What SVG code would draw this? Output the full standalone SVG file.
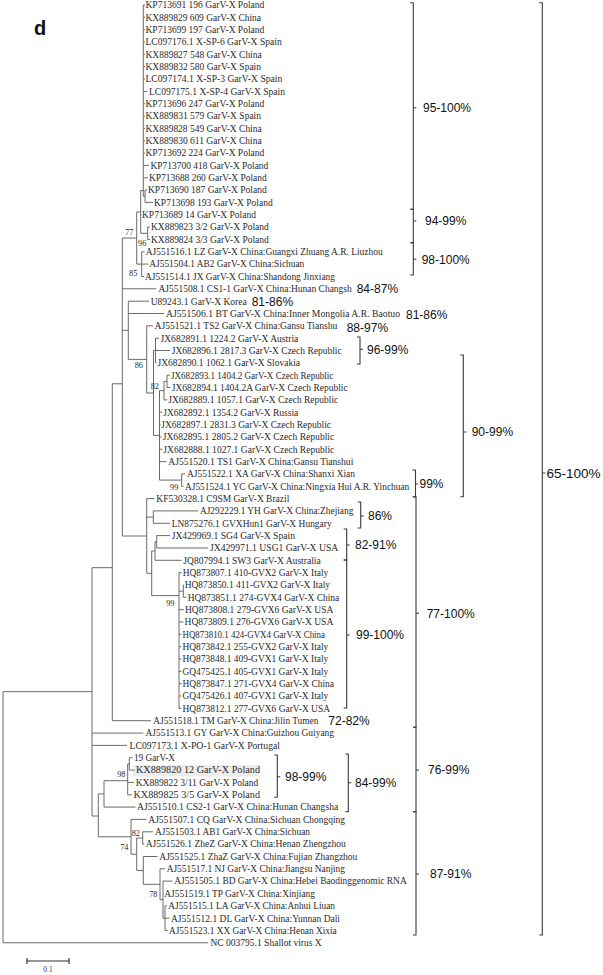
<svg xmlns="http://www.w3.org/2000/svg" width="603" height="975" viewBox="0 0 603 975">
<style>
.lf{font-family:"Liberation Serif","Times New Roman",serif;font-size:9.5px;fill:#2a2a2a}
.bs{font-family:"Liberation Serif","Times New Roman",serif;font-size:8.3px;fill:#2a2a2a;text-anchor:end}
.pc{font-family:"Liberation Sans",Arial,sans-serif;font-size:12px;fill:#111}
.tr{fill:none;stroke:#5a5a5a;stroke-width:0.9}
.br{fill:none;stroke:#3a3a3a;stroke-width:1.1}
</style>
<rect width="603" height="975" fill="#ffffff"/>
<rect x="133" y="765" width="127" height="11.5" fill="#ededed"/>
<text x="34" y="35" font-family="Liberation Sans,Arial,sans-serif" font-size="20" font-weight="bold" fill="#111">d</text>

<g id="connectors" class="tr">
<path d="M3,691.7V942.8M3,691.7H92M92,567.7V816M92,567.7H112.3M112.3,383.8V720.7M112.3,383.8H122.3M122.3,238V536"/>
<path d="M122.3,238H136.7M136.7,211.9V264.1M136.7,211.9H140.7M140.7,190.5V233.3M140.7,190.5H143.3M143.3,5V196.3M143.3,196.3H145M145,190.1V202.4M140.7,233.3H147.7M147.7,227.1V239.5M136.7,264.1H141.7M141.7,251.8V276.5"/>
<path d="M122.3,330.3H128.3M128.3,301.2V359.4M128.3,359.4H146.7M146.7,325.8V393M146.7,393H153.5M153.5,350.5V435.4M153.5,350.5H155.5M155.5,338.2V362.9M153.5,435.4H159.5M159.5,390.6V480.1M159.5,390.6H164M164,381.4V399.9M164,381.4H167M167,375.2V387.5M159.5,480.1H181.7M181.7,473.9V486.3"/>
<path d="M122.3,536H146.7M146.7,498.6V573.3M146.7,517.1H153.3M153.3,510.9V523.3M146.7,573.3H151.7M151.7,551V595.6M151.7,551H155M155,541.8V560.3M155,541.8H156.7M156.7,535.6V548M151.7,595.6H179M179,572.6V708.4M179,591.2H183.3M183.3,585V597.3"/>
<path d="M92,816H98.3M98.3,793.9V836.8M98.3,793.9H104M104,780.7V807.1M104,780.7H127.7M127.7,763.9V794.8M127.7,763.9H129.3M129.3,757.7V770.1"/>
<path d="M98.3,836.8H131M131,819.4V854.2M131,854.2H136.7M136.7,838V870.4M136.7,838H142.7M142.7,831.8V844.1M136.7,870.4H143.3M143.3,856.5V884.3M143.3,884.3H160M160,868.8V899.7M160,899.7H163M163,881.1V918.2M163,918.2H165M165,905.8V930.5"/>
<path d="M143.3,5H145M143.3,17.3H145M143.3,29.7H145M143.3,42H145M143.3,54.4H145M143.3,66.7H145M143.3,79H145M143.3,91.4H147.5M143.3,103.7H145M143.3,116.1H145M143.3,128.4H145M143.3,140.7H145M143.3,153.1H145M143.3,165.4H149M143.3,177.8H148M145,190.1H147M145,202.4H153M140.7,214.8H141.5M147.7,227.1H150M147.7,239.5H150M141.7,251.8H144.7M141.7,264.1H148.3M141.7,276.5H144"/>
<path d="M122.3,288.8H156M128.3,301.2H149M128.3,313.5H164M146.7,325.8H153M155.5,338.2H159M155.5,350.5H170M155.5,362.9H156.5M167,375.2H170M167,387.5H170.5M164,399.9H167.3M159.5,412.2H162.3M159.5,424.6H160.5M159.5,436.9H161.7M159.5,449.2H162.3M159.5,461.6H166.5M181.7,473.9H185M181.7,486.3H183.5"/>
<path d="M146.7,498.6H154.5M153.3,510.9H198M153.3,523.3H170M156.7,535.6H170M156.7,548H208M155,560.3H181.5M179,572.6H181.5M183.3,585H184M183.3,597.3H186.5M179,609.7H184M179,622H183.5M179,634.3H181.5M179,646.7H181.5M179,659H181.5M179,671.4H181.5M179,683.7H181.5M179,696H181.5M179,708.4H181.5"/>
<path d="M112.3,720.7H151M92,733.1H143.3M92,745.4H127M129.3,757.7H132.5M129.3,770.1H134.5M127.7,782.4H134M127.7,794.8H132M104,807.1H135.5M131,819.4H146.5M142.7,831.8H153M142.7,844.1H144.3M143.3,856.5H157.5M160,868.8H165M163,881.1H172.5M163,893.5H163.5M165,905.8H167M165,918.2H169.5M165,930.5H167.5M3,942.8H208"/>
</g>

<g id="leaves" lengthAdjust="spacingAndGlyphs">
<g id="leaf-1"><text class="lf" x="145.5" y="8.3" textLength="118.8" lengthAdjust="spacingAndGlyphs">KP713691 196 GarV-X Poland</text></g>
<g id="leaf-2"><text class="lf" x="145.5" y="20.6" textLength="115.5" lengthAdjust="spacingAndGlyphs">KX889829 609 GarV-X China</text></g>
<g id="leaf-3"><text class="lf" x="145.5" y="33" textLength="118.8" lengthAdjust="spacingAndGlyphs">KP713699 197 GarV-X Poland</text></g>
<g id="leaf-4"><text class="lf" x="145.5" y="45.3" textLength="136.2" lengthAdjust="spacingAndGlyphs">LC097176.1 X-SP-6 GarV-X Spain</text></g>
<g id="leaf-5"><text class="lf" x="145.5" y="57.7" textLength="116.2" lengthAdjust="spacingAndGlyphs">KX889827 548 GarV-X China</text></g>
<g id="leaf-6"><text class="lf" x="145.5" y="70" textLength="115.5" lengthAdjust="spacingAndGlyphs">KX889832 580 GarV-X Spain</text></g>
<g id="leaf-7"><text class="lf" x="145.5" y="82.3" textLength="136.8" lengthAdjust="spacingAndGlyphs">LC097174.1 X-SP-3 GarV-X Spain</text></g>
<g id="leaf-8"><text class="lf" x="149" y="94.7" textLength="136" lengthAdjust="spacingAndGlyphs">LC097175.1 X-SP-4 GarV-X Spain</text></g>
<g id="leaf-9"><text class="lf" x="145.5" y="107" textLength="118.8" lengthAdjust="spacingAndGlyphs">KP713696 247 GarV-X Poland</text></g>
<g id="leaf-10"><text class="lf" x="145.5" y="119.4" textLength="115.5" lengthAdjust="spacingAndGlyphs">KX889831 579 GarV-X Spain</text></g>
<g id="leaf-11"><text class="lf" x="145.5" y="131.7" textLength="116.2" lengthAdjust="spacingAndGlyphs">KX889828 549 GarV-X China</text></g>
<g id="leaf-12"><text class="lf" x="145.5" y="144" textLength="116.2" lengthAdjust="spacingAndGlyphs">KX889830 611 GarV-X China</text></g>
<g id="leaf-13"><text class="lf" x="145.5" y="156.4" textLength="118.8" lengthAdjust="spacingAndGlyphs">KP713692 224 GarV-X Poland</text></g>
<g id="leaf-14"><text class="lf" x="150.5" y="168.7" textLength="117.8" lengthAdjust="spacingAndGlyphs">KP713700 418 GarV-X Poland</text></g>
<g id="leaf-15"><text class="lf" x="149" y="181.1" textLength="117.7" lengthAdjust="spacingAndGlyphs">KP713688 260 GarV-X Poland</text></g>
<g id="leaf-16"><text class="lf" x="148" y="193.4" textLength="118.7" lengthAdjust="spacingAndGlyphs">KP713690 187 GarV-X Poland</text></g>
<g id="leaf-17"><text class="lf" x="154" y="205.7" textLength="118.7" lengthAdjust="spacingAndGlyphs">KP713698 193 GarV-X Poland</text></g>
<g id="leaf-18"><text class="lf" x="142" y="218.1" textLength="114" lengthAdjust="spacingAndGlyphs">KP713689 14 GarV-X Poland</text></g>
<g id="leaf-19"><text class="lf" x="151" y="230.4" textLength="117.7" lengthAdjust="spacingAndGlyphs">KX889823 3/2 GarV-X Poland</text></g>
<g id="leaf-20"><text class="lf" x="151" y="242.8" textLength="117.7" lengthAdjust="spacingAndGlyphs">KX889824 3/3 GarV-X Poland</text></g>
<g id="leaf-21"><text class="lf" x="145.7" y="255.1" textLength="237" lengthAdjust="spacingAndGlyphs">AJ551516.1 LZ GarV-X China:Guangxi Zhuang A.R. Liuzhou</text></g>
<g id="leaf-22"><text class="lf" x="149.3" y="267.4" textLength="155" lengthAdjust="spacingAndGlyphs">AJ551504.1 AB2 GarV-X China:Sichuan</text></g>
<g id="leaf-23"><text class="lf" x="145" y="279.8" textLength="190" lengthAdjust="spacingAndGlyphs">AJ551514.1 JX GarV-X China:Shandong Jinxiang</text></g>
<g id="leaf-24"><text class="lf" x="158.5" y="292.1" textLength="193.2" lengthAdjust="spacingAndGlyphs">AJ551508.1 CS1-1 GarV-X China:Hunan Changsh</text></g>
<g id="leaf-25"><text class="lf" x="150.7" y="304.5" textLength="96" lengthAdjust="spacingAndGlyphs">U89243.1 GarV-X Korea</text></g>
<g id="leaf-26"><text class="lf" x="166" y="316.8" textLength="234" lengthAdjust="spacingAndGlyphs">AJ551506.1 BT GarV-X China:Inner Mongolia A.R. Baotuo</text></g>
<g id="leaf-27"><text class="lf" x="154.5" y="329.1" textLength="182.8" lengthAdjust="spacingAndGlyphs">AJ551521.1 TS2 GarV-X China:Gansu Tianshu</text></g>
<g id="leaf-28"><text class="lf" x="160.5" y="341.5" textLength="137.8" lengthAdjust="spacingAndGlyphs">JX682891.1 1224.2 GarV-X Austria</text></g>
<g id="leaf-29"><text class="lf" x="171.7" y="353.8" textLength="170" lengthAdjust="spacingAndGlyphs">JX682896.1 2817.3 GarV-X Czech Republic</text></g>
<g id="leaf-30"><text class="lf" x="157.5" y="366.2" textLength="142.5" lengthAdjust="spacingAndGlyphs">JX682890.1 1062.1 GarV-X Slovakia</text></g>
<g id="leaf-31"><text class="lf" x="171" y="378.5" textLength="162.3" lengthAdjust="spacingAndGlyphs">JX682893.1 1404.2 GarV-X Czech Republic</text></g>
<g id="leaf-32"><text class="lf" x="171.7" y="390.8" textLength="176" lengthAdjust="spacingAndGlyphs">JX682894.1 1404.2A GarV-X Czech Republic</text></g>
<g id="leaf-33"><text class="lf" x="168.3" y="403.2" textLength="170" lengthAdjust="spacingAndGlyphs">JX682889.1 1057.1 GarV-X Czech Republic</text></g>
<g id="leaf-34"><text class="lf" x="163.3" y="415.5" textLength="135" lengthAdjust="spacingAndGlyphs">JX682892.1 1354.2 GarV-X Russia</text></g>
<g id="leaf-35"><text class="lf" x="161.3" y="427.9" textLength="169.7" lengthAdjust="spacingAndGlyphs">JX682897.1 2831.3 GarV-X Czech Republic</text></g>
<g id="leaf-36"><text class="lf" x="162.7" y="440.2" textLength="171.6" lengthAdjust="spacingAndGlyphs">JX682895.1 2805.2 GarV-X Czech Republic</text></g>
<g id="leaf-37"><text class="lf" x="163.3" y="452.5" textLength="171" lengthAdjust="spacingAndGlyphs">JX682888.1 1027.1 GarV-X Czech Republic</text></g>
<g id="leaf-38"><text class="lf" x="168.3" y="464.9" textLength="185" lengthAdjust="spacingAndGlyphs">AJ551520.1 TS1 GarV-X China:Gansu Tianshui</text></g>
<g id="leaf-39"><text class="lf" x="187" y="477.2" textLength="168" lengthAdjust="spacingAndGlyphs">AJ551522.1 XA GarV-X China:Shanxi Xian</text></g>
<g id="leaf-40"><text class="lf" x="185" y="489.6" textLength="224.3" lengthAdjust="spacingAndGlyphs">AJ551524.1 YC GarV-X China:Ningxia Hui A.R. Yinchuan</text></g>
<g id="leaf-41"><text class="lf" x="156.3" y="501.9" textLength="133" lengthAdjust="spacingAndGlyphs">KF530328.1 C9SM GarV-X Brazil</text></g>
<g id="leaf-42"><text class="lf" x="200" y="514.2" textLength="153.3" lengthAdjust="spacingAndGlyphs">AJ292229.1 YH GarV-X China:Zhejiang</text></g>
<g id="leaf-43"><text class="lf" x="171.7" y="526.6" textLength="160" lengthAdjust="spacingAndGlyphs">LN875276.1 GVXHun1 GarV-X Hungary</text></g>
<g id="leaf-44"><text class="lf" x="171.7" y="538.9" textLength="123.3" lengthAdjust="spacingAndGlyphs">JX429969.1 SG4 GarV-X Spain</text></g>
<g id="leaf-45"><text class="lf" x="210" y="551.3" textLength="128.3" lengthAdjust="spacingAndGlyphs">JX429971.1 USG1 GarV-X USA</text></g>
<g id="leaf-46"><text class="lf" x="183.3" y="563.6" textLength="137.4" lengthAdjust="spacingAndGlyphs">JQ807994.1 SW3 GarV-X Australia</text></g>
<g id="leaf-47"><text class="lf" x="182.7" y="575.9" textLength="145.6" lengthAdjust="spacingAndGlyphs">HQ873807.1 410-GVX2 GarV-X Italy</text></g>
<g id="leaf-48"><text class="lf" x="184.7" y="588.3" textLength="145.3" lengthAdjust="spacingAndGlyphs">HQ873850.1 411-GVX2 GarV-X Italy</text></g>
<g id="leaf-49"><text class="lf" x="187.7" y="600.6" textLength="151.6" lengthAdjust="spacingAndGlyphs">HQ873851.1 274-GVX4 GarV-X China</text></g>
<g id="leaf-50"><text class="lf" x="185" y="613" textLength="148.3" lengthAdjust="spacingAndGlyphs">HQ873808.1 279-GVX6 GarV-X USA</text></g>
<g id="leaf-51"><text class="lf" x="184.5" y="625.3" textLength="148.8" lengthAdjust="spacingAndGlyphs">HQ873809.1 276-GVX6 GarV-X USA</text></g>
<g id="leaf-52"><text class="lf" x="182.5" y="637.6" textLength="142.5" lengthAdjust="spacingAndGlyphs">HQ873810.1 424-GVX4 GarV-X China</text></g>
<g id="leaf-53"><text class="lf" x="182.5" y="650" textLength="145.8" lengthAdjust="spacingAndGlyphs">HQ873842.1 255-GVX2 GarV-X Italy</text></g>
<g id="leaf-54"><text class="lf" x="182.5" y="662.3" textLength="145.8" lengthAdjust="spacingAndGlyphs">HQ873848.1 409-GVX1 GarV-X Italy</text></g>
<g id="leaf-55"><text class="lf" x="182.5" y="674.7" textLength="145.8" lengthAdjust="spacingAndGlyphs">GQ475425.1 405-GVX1 GarV-X Italy</text></g>
<g id="leaf-56"><text class="lf" x="182.5" y="687" textLength="151.5" lengthAdjust="spacingAndGlyphs">HQ873847.1 271-GVX4 GarV-X China</text></g>
<g id="leaf-57"><text class="lf" x="182.5" y="699.3" textLength="145.8" lengthAdjust="spacingAndGlyphs">GQ475426.1 407-GVX1 GarV-X Italy</text></g>
<g id="leaf-58"><text class="lf" x="182.5" y="711.7" textLength="147.5" lengthAdjust="spacingAndGlyphs">HQ873812.1 277-GVX6 GarV-X USA</text></g>
<g id="leaf-59"><text class="lf" x="153.3" y="724" textLength="165" lengthAdjust="spacingAndGlyphs">AJ551518.1 TM GarV-X China:Jilin Tumen</text></g>
<g id="leaf-60"><text class="lf" x="145.5" y="736.4" textLength="188.5" lengthAdjust="spacingAndGlyphs">AJ551513.1 GY GarV-X China:Guizhou Guiyang</text></g>
<g id="leaf-61"><text class="lf" x="129.5" y="748.7" textLength="150.5" lengthAdjust="spacingAndGlyphs">LC097173.1 X-PO-1 GarV-X Portugal</text></g>
<g id="leaf-62"><text class="lf" x="134" y="761" textLength="41" lengthAdjust="spacingAndGlyphs">19 GarV-X</text></g>
<g id="leaf-63"><text class="lf" x="136" y="773.4" textLength="124" lengthAdjust="spacingAndGlyphs">KX889820 12 GarV-X Poland</text></g>
<g id="leaf-64"><text class="lf" x="135.7" y="785.7" textLength="122.6" lengthAdjust="spacingAndGlyphs">KX889822 3/11 GarV-X Poland</text></g>
<g id="leaf-65"><text class="lf" x="133.5" y="798.1" textLength="126.5" lengthAdjust="spacingAndGlyphs">KX889825 3/5 GarV-X Poland</text></g>
<g id="leaf-66"><text class="lf" x="137" y="810.4" textLength="201.3" lengthAdjust="spacingAndGlyphs">AJ551510.1 CS2-1 GarV-X China:Hunan Changsha</text></g>
<g id="leaf-67"><text class="lf" x="148.3" y="822.7" textLength="196.7" lengthAdjust="spacingAndGlyphs">AJ551507.1 CQ GarV-X China:Sichuan Chongqing</text></g>
<g id="leaf-68"><text class="lf" x="155" y="835.1" textLength="155" lengthAdjust="spacingAndGlyphs">AJ551503.1 AB1 GarV-X China:Sichuan</text></g>
<g id="leaf-69"><text class="lf" x="145.7" y="847.4" textLength="200" lengthAdjust="spacingAndGlyphs">AJ551526.1 ZheZ GarV-X China:Henan Zhengzhou</text></g>
<g id="leaf-70"><text class="lf" x="159.3" y="859.8" textLength="198" lengthAdjust="spacingAndGlyphs">AJ551525.1 ZhaZ GarV-X China:Fujian Zhangzhou</text></g>
<g id="leaf-71"><text class="lf" x="166.7" y="872.1" textLength="178.3" lengthAdjust="spacingAndGlyphs">AJ551517.1 NJ GarV-X China:Jiangsu Nanjing</text></g>
<g id="leaf-72"><text class="lf" x="174.3" y="884.4" textLength="232.4" lengthAdjust="spacingAndGlyphs">AJ551505.1 BD GarV-X China:Hebei Baodinggenomic RNA</text></g>
<g id="leaf-73"><text class="lf" x="164.3" y="896.8" textLength="150.7" lengthAdjust="spacingAndGlyphs">AJ551519.1 TP GarV-X China:Xinjiang</text></g>
<g id="leaf-74"><text class="lf" x="168.3" y="909.1" textLength="166.7" lengthAdjust="spacingAndGlyphs">AJ551515.1 LA GarV-X China:Anhui Liuan</text></g>
<g id="leaf-75"><text class="lf" x="171" y="921.5" textLength="169" lengthAdjust="spacingAndGlyphs">AJ551512.1 DL GarV-X China:Yunnan Dali</text></g>
<g id="leaf-76"><text class="lf" x="169" y="933.8" textLength="167.7" lengthAdjust="spacingAndGlyphs">AJ551523.1 XX GarV-X China:Henan Xixia</text></g>
<g id="leaf-77"><text class="lf" x="210.5" y="946.1" textLength="111.2" lengthAdjust="spacingAndGlyphs">NC 003795.1 Shallot virus X</text></g>
</g>

<g id="bootstrap">
<text class="bs" x="133.5" y="234.5">77</text>
<text class="bs" x="146.3" y="245.5">96</text>
<text class="bs" x="137.3" y="276.3">85</text>
<text class="bs" x="143" y="368">86</text>
<text class="bs" x="159" y="389.3">82</text>
<text class="bs" x="178.3" y="490">99</text>
<text class="bs" x="174.5" y="606">99</text>
<text class="bs" x="125.5" y="777">98</text>
<text class="bs" x="140" y="835.7">82</text>
<text class="bs" x="128.5" y="849.7">74</text>
<text class="bs" x="157.5" y="897">78</text>
</g>

<g id="inline-labels">
<text class="pc" x="356.7" y="293.3">84-87%</text>
<text class="pc" x="251.7" y="306">81-86%</text>
<text class="pc" x="406" y="318.6">81-86%</text>
<text class="pc" x="346.7" y="331.6">88-97%</text>
<text class="pc" x="328.3" y="725.3">72-82%</text>
</g>

<g id="brackets" class="br">
<g id="br-95-100"><path d="M410.3,2.7H413.3V209.3H410.3M413.3,107.7H416.3"/><text class="pc" x="423" y="112.3" stroke="none">95-100%</text></g>
<g id="br-94-99"><path d="M410.3,209.3H413.3V242.7H410.3M413.3,221H416.3"/><text class="pc" x="425" y="225.3" stroke="none">94-99%</text></g>
<g id="br-98-100"><path d="M410.3,242.7H413.3V275H410.3M413.3,259.3H416.3"/><text class="pc" x="421.7" y="263.6" stroke="none">98-100%</text></g>
<g id="br-96-99"><path d="M357,337H360V364H357M360,349.3H363"/><text class="pc" x="367" y="353.6" stroke="none">96-99%</text></g>
<g id="br-90-99"><path d="M460.3,355H463.3V496.7H460.3M463.3,432H466.3"/><text class="pc" x="471.7" y="436.3" stroke="none">90-99%</text></g>
<g id="br-99"><path d="M412.5,470H415.5V497H412.5M415.5,484H418"/><text class="pc" x="419.5" y="488.3" stroke="none">99%</text></g>
<g id="br-86"><path d="M357.7,502H360.7V528H357.7M360.7,516H363.7"/><text class="pc" x="368" y="520.3" stroke="none">86%</text></g>
<g id="br-82-91"><path d="M343.7,529H346.7V560H343.7M346.7,545H349.7"/><text class="pc" x="355" y="549.3" stroke="none">82-91%</text></g>
<g id="br-99-100"><path d="M343.7,560H346.7V708H343.7M346.7,635H349.7"/><text class="pc" x="356" y="639.3" stroke="none">99-100%</text></g>
<g id="br-77-100"><path d="M413,496.7H416V727.3H413M416,613.3H419"/><text class="pc" x="426.7" y="617.6" stroke="none">77-100%</text></g>
<g id="br-76-99"><path d="M413,727.3H416V811.7H413M416,770H419"/><text class="pc" x="428" y="774.3" stroke="none">76-99%</text></g>
<g id="br-87-91"><path d="M413,811.7H416V935H413M416,874H419"/><text class="pc" x="430" y="878.3" stroke="none">87-91%</text></g>
<g id="br-98-99"><path d="M274.3,755H277.3V797.3H274.3M277.3,776.7H280.3"/><text class="pc" x="285" y="781" stroke="none">98-99%</text></g>
<g id="br-84-99"><path d="M345.3,754H348.3V811.7H345.3M348.3,782.7H351.3"/><text class="pc" x="355" y="787" stroke="none">84-99%</text></g>
<g id="br-65-100"><path d="M539.3,2.7H542.3V935H539.3M542.3,473H545.3"/><text class="pc" x="546.5" y="477.8" stroke="none" style="font-size:13.5px">65-100%</text></g>
</g>

<g id="scale-bar">
<path d="M27,961H69M27,958V964M69,958V964" fill="none" stroke="#333" stroke-width="1.2"/>
<text x="48" y="971.5" font-family="Liberation Serif,Times New Roman,serif" font-size="7.5" fill="#333" text-anchor="middle">0.1</text>
</g>
</svg>
